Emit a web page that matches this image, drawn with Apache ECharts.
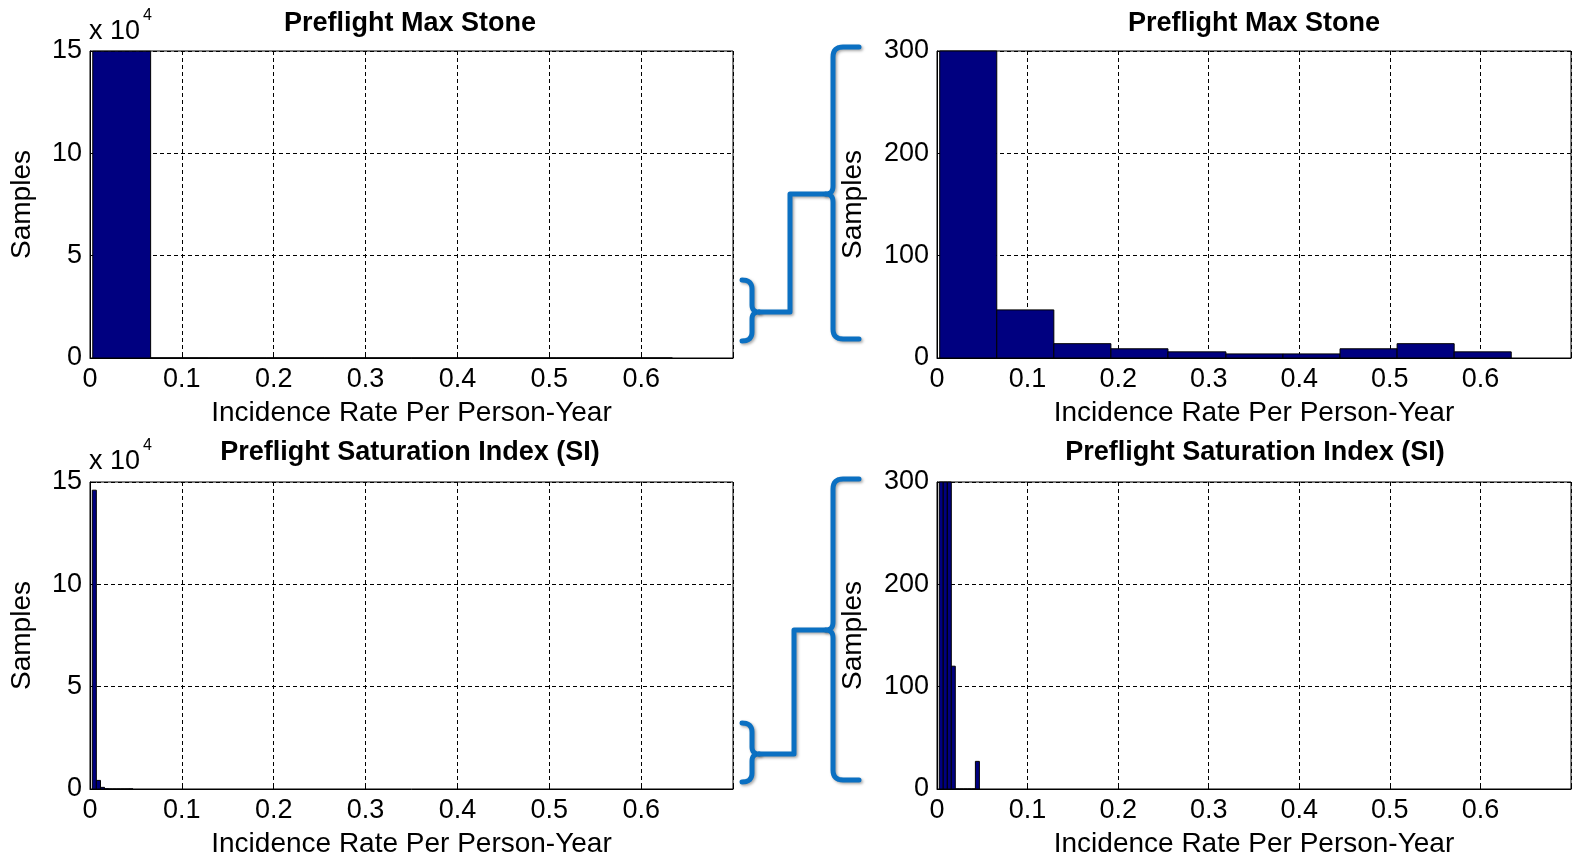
<!DOCTYPE html>
<html>
<head>
<meta charset="utf-8">
<script src="https://cdn.jsdelivr.net/npm/echarts@6/dist/echarts.min.js"></script>
<style>
  html, body { margin: 0; padding: 0; background: #fff; }
  #chart { width: 1574px; height: 859px; }
</style>
</head>
<body>
<div id="chart"></div>
<script>
// ---------------- DATA ----------------
const titles = ['Preflight Max Stone', 'Preflight Saturation Index (SI)'];
const xAxisName = 'Incidence Rate Per Person-Year';
const yAxisName = 'Samples';

// Preflight Max Stone histogram: bin edges and counts
const maxStoneBinEdges = [0.003, 0.066, 0.129, 0.192, 0.255, 0.319, 0.382, 0.445, 0.508, 0.571, 0.634];
const maxStoneCounts = [149880, 47, 14, 9, 6, 4, 4, 9, 14, 6];

// Preflight Saturation Index histogram: bin edges and counts
const siBinEdges = [0.0025, 0.0069, 0.0114, 0.0158, 0.0202, 0.0247, 0.0291, 0.0335, 0.0380, 0.0424, 0.0468];
const siCounts = [146000, 4200, 800, 120, 0, 0, 0, 0, 0, 27];

// Tick labels
const xTickValues = [0, 0.1, 0.2, 0.3, 0.4, 0.5, 0.6];
const xTickLabels = ['0', '0.1', '0.2', '0.3', '0.4', '0.5', '0.6'];
const yTickValuesFull = [0, 50000, 100000, 150000];
const yTickLabelsFull = ['0', '5', '10', '15'];   // shown with "x 10^4"
const yTickValuesZoom = [0, 100, 200, 300];
const yTickLabelsZoom = ['0', '100', '200', '300'];

// ---------------- CHART ----------------
const FONT = 'Liberation Sans, Arial, Helvetica, sans-serif';
const chart = echarts.init(document.getElementById('chart'), null, { renderer: 'canvas' });

function histData(edges, counts) {
  return counts.map((c, i) => [edges[i], edges[i + 1], c]);
}

function renderHist(params, api) {
  const x0 = api.value(0), x1 = api.value(1), y = api.value(2);
  const p0 = api.coord([x0, 0]);
  const p1 = api.coord([x1, y]);
  const cs = params.coordSys;
  const rect = echarts.graphic.clipRectByRect(
    { x: p0[0], y: p1[1], width: p1[0] - p0[0], height: p0[1] - p1[1] },
    { x: cs.x, y: cs.y, width: cs.width, height: cs.height }
  );
  if (!rect) return;
  return { type: 'rect', shape: rect, style: { fill: '#000080', stroke: '#000', lineWidth: 1 } };
}

function lookup(values, labels) {
  return function (v) {
    const i = values.findIndex(t => Math.abs(t - v) < 1e-9 * Math.max(1, Math.abs(t)));
    return i >= 0 ? labels[i] : '';
  };
}

const grids = [
  { left: 90, top: 51, width: 643, height: 307 },
  { left: 937, top: 51, width: 643, height: 307 },
  { left: 90, top: 482, width: 643, height: 307 },
  { left: 937, top: 482, width: 643, height: 307 }
].map(g => Object.assign({ show: true, borderColor: '#000', borderWidth: 1, backgroundColor: '#fff', containLabel: false }, g));

const axisLineStyle = { show: true, lineStyle: { color: '#000', width: 1 } };
const splitLineStyle = { show: true, lineStyle: { color: '#000', width: 1, type: [4, 3] } };

const xAxes = [0, 1, 2, 3].map(i => ({
  gridIndex: i,
  type: 'value',
  min: 0, max: 0.7, interval: 0.1,
  name: xAxisName,
  nameLocation: 'middle',
  nameGap: 41,
  nameTextStyle: { fontFamily: FONT, fontSize: 28, color: '#000' },
  axisLine: axisLineStyle,
  axisTick: { show: true, inside: true, length: 6, lineStyle: { color: '#000' } },
  axisLabel: { fontFamily: FONT, fontSize: 27, color: '#000', margin: 8, formatter: lookup(xTickValues, xTickLabels) },
  splitLine: splitLineStyle
}));

const yAxes = [0, 1, 2, 3].map(i => {
  const full = (i % 2 === 0);
  return {
    gridIndex: i,
    type: 'value',
    min: 0,
    max: full ? 150000 : 300,
    interval: full ? 50000 : 100,
    name: yAxisName,
    nameLocation: 'middle',
    nameGap: full ? 54 : 70,
    nameTextStyle: { fontFamily: FONT, fontSize: 28, color: '#000' },
    axisLine: axisLineStyle,
    axisTick: { show: true, inside: true, length: 6, lineStyle: { color: '#000' } },
    axisLabel: {
      fontFamily: FONT, fontSize: 27, color: '#000', margin: 8,
      formatter: full ? lookup(yTickValuesFull, yTickLabelsFull) : lookup(yTickValuesZoom, yTickLabelsZoom)
    },
    splitLine: splitLineStyle
  };
});

const seriesData = [
  histData(maxStoneBinEdges, maxStoneCounts),
  histData(maxStoneBinEdges, maxStoneCounts),
  histData(siBinEdges, siCounts),
  histData(siBinEdges, siCounts)
];

const series = seriesData.map((d, i) => ({
  type: 'custom',
  xAxisIndex: i,
  yAxisIndex: i,
  renderItem: renderHist,
  encode: { x: [0, 1], y: 2 },
  data: d,
  silent: true,
  z: 3
}));

const titleCfg = [
  { text: titles[0], left: 405, top: 5 },
  { text: titles[0], left: 1249, top: 5 },
  { text: titles[1], left: 405, top: 434 },
  { text: titles[1], left: 1250, top: 434 }
].map(t => Object.assign({
  textAlign: 'center',
  textStyle: { fontFamily: FONT, fontSize: 27, fontWeight: 'bold', color: '#000' }
}, t));

// ---------------- Blue brace annotations ----------------
const BLUE = '#0b70c2';
const braceStyle = {
  stroke: BLUE, lineWidth: 5, fill: null, lineCap: 'round', lineJoin: 'round',
  shadowBlur: 3, shadowColor: 'rgba(0,0,0,0.35)', shadowOffsetX: 1.5, shadowOffsetY: 1.5
};

// Build polyline points from a list of segments: ['M',x,y] ['L',x,y] ['Q',cx,cy,x,y]
function polyFrom(segs) {
  const pts = [];
  let cur = null;
  segs.forEach(s => {
    if (s[0] === 'M' || s[0] === 'L') {
      cur = [s[1], s[2]];
      pts.push(cur);
    } else if (s[0] === 'Q') {
      const [ , cx, cy, x, y] = s;
      for (let k = 1; k <= 8; k++) {
        const t = k / 8;
        const px = (1 - t) * (1 - t) * cur[0] + 2 * (1 - t) * t * cx + t * t * x;
        const py = (1 - t) * (1 - t) * cur[1] + 2 * (1 - t) * t * cy + t * t * y;
        pts.push([px, py]);
      }
      cur = [x, y];
    }
  });
  return { type: 'polyline', shape: { points: pts }, style: braceStyle, z: 10 };
}

function braces(smTop, smBot, smMid, connX, bigMid, bigTop, bigBot) {
  const small = polyFrom([
    ['M', 742, smTop], ['Q', 752, smTop, 752, smTop + 9], ['L', 752, smMid - 7],
    ['Q', 752, smMid, 759, smMid], ['Q', 752, smMid, 752, smMid + 7],
    ['L', 752, smBot - 9], ['Q', 752, smBot, 742, smBot]
  ]);
  const conn = polyFrom([['M', 759, smMid], ['L', connX, smMid], ['L', connX, bigMid], ['L', 826, bigMid]]);
  const big = polyFrom([
    ['M', 859, bigTop], ['L', 843, bigTop], ['Q', 833, bigTop, 833, bigTop + 10],
    ['L', 833, bigMid - 8], ['Q', 833, bigMid, 826, bigMid], ['Q', 833, bigMid, 833, bigMid + 8],
    ['L', 833, bigBot - 10], ['Q', 833, bigBot, 843, bigBot], ['L', 859, bigBot]
  ]);
  return [small, conn, big];
}

const graphics = [
  { type: 'text', x: 89, y: 18, z: 20, style: { text: 'x 10', fontSize: 27, fontFamily: FONT, fill: '#000' } },
  { type: 'text', x: 143, y: 8, z: 20, style: { text: '4', fontSize: 16, fontFamily: FONT, fill: '#000' } },
  { type: 'text', x: 89, y: 448, z: 20, style: { text: 'x 10', fontSize: 27, fontFamily: FONT, fill: '#000' } },
  { type: 'text', x: 143, y: 438, z: 20, style: { text: '4', fontSize: 16, fontFamily: FONT, fill: '#000' } }
].concat(
  braces(280, 341, 312, 790, 194, 47, 339),
  braces(723, 782, 754, 794, 630, 479, 780)
);

chart.setOption({
  animation: false,
  backgroundColor: '#fff',
  title: titleCfg,
  grid: grids,
  xAxis: xAxes,
  yAxis: yAxes,
  series: series,
  graphic: { elements: graphics }
});
</script>
</body>
</html>
